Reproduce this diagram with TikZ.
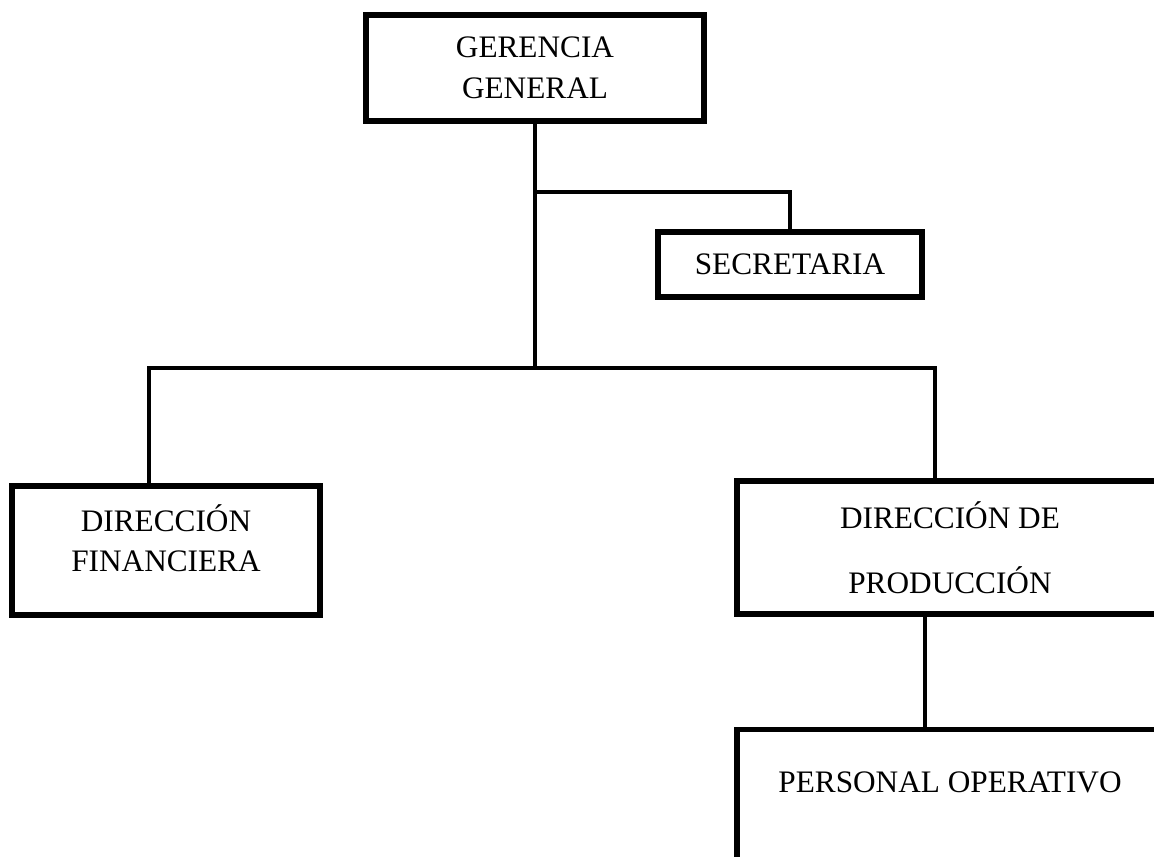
\documentclass[tikz,border=0pt]{standalone}
\usepackage{fontspec}
\setmainfont{Liberation Serif}
\usetikzlibrary{positioning,calc}

\begin{document}
\begin{tikzpicture}[
  font=\fontsize{17.8}{23}\selectfont,
  unit/.style={draw, line width=3pt, align=center, inner sep=0pt},
  link/.style={line width=2.1pt}
]
\useasboundingbox (0,0) rectangle (23.08,-17.14);
\clip (0,0) rectangle (23.08,-17.14);

\node[unit, minimum width=6.76cm, minimum height=2.12cm] (gg)  at (10.7,-1.36)  {GERENCIA\\GENERAL};
\node[unit, minimum width=5.28cm, minimum height=1.3cm]  (sec) at (15.8,-5.29)  {SECRETARIA};
\node[unit, minimum width=6.16cm, minimum height=2.58cm] (df)  at (3.32,-11.01) {DIRECCI\'ON\\FINANCIERA\\[-0.3cm]};
\node[unit, minimum width=8.52cm, minimum height=2.66cm] (dp)  at (19.0,-10.95) {DIRECCI\'ON DE\\[0.5cm]PRODUCCI\'ON};
\node[unit, minimum width=8.52cm, text height=1.26cm, text depth=2.2cm, anchor=north] (po) at (19.0,-14.54) {PERSONAL OPERATIVO};

% main trunk and branches
\coordinate (busL) at (2.98,-7.36);
\coordinate (busR) at (18.7,-7.36);
\coordinate (secT) at (15.8,-3.84);
\draw[link] (gg.south) -- (gg.south |- busL);
\draw[link] (gg.south |- secT) -- (secT) -- (sec.north);
\draw[link] (busL |- df.north) -- (busL) -- (busR) -- (busR |- dp.north);
\draw[link] ([xshift=-0.5cm]dp.south) -- ([xshift=-0.5cm]po.north);

\end{tikzpicture}
\end{document}
